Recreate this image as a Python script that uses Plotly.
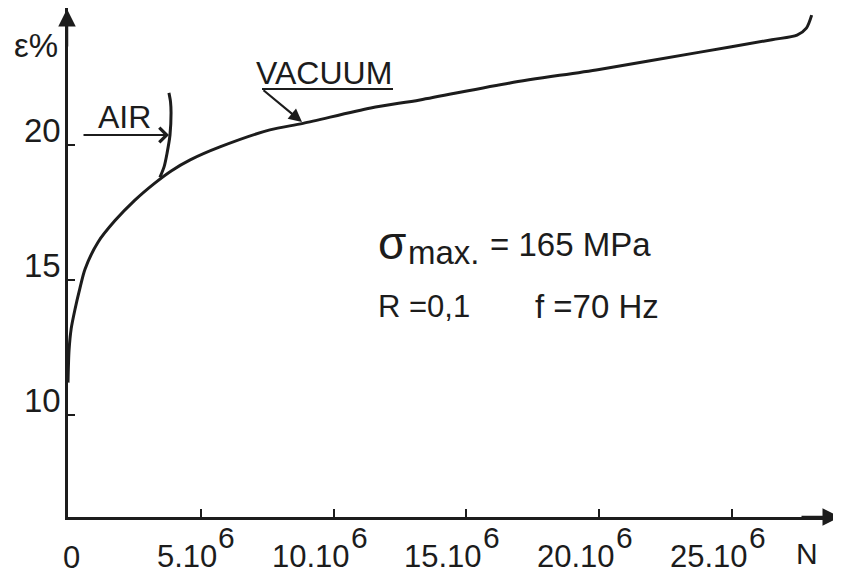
import plotly.graph_objects as go

# ---- data (N in millions of cycles, strain in %) ----
vac_N = [0.0, 0.04, 0.12, 0.26, 0.45, 0.64, 1.13, 1.77, 2.52, 3.28, 3.9, 4.6, 5.72,
         7.6, 8.85, 11.4, 13.25, 16.64, 20.0, 23.8, 26.5, 27.45, 27.8, 28.0]
vac_eps = [11.2, 12.4, 13.2, 13.9, 14.7, 15.4, 16.4, 17.2, 17.96, 18.6, 19.05, 19.45, 19.93,
           20.56, 20.8, 21.37, 21.67, 22.3, 22.8, 23.44, 23.9, 24.07, 24.33, 24.81]
air_N = [3.46, 3.62, 3.73, 3.84, 3.88, 3.86, 3.80]
air_eps = [18.8, 19.2, 19.7, 20.37, 21.19, 21.6, 21.93]

x_ticks = [5, 10, 15, 20, 25]
x_tick_main = ["5.10", "10.10", "15.10", "20.10", "25.10"]
x_tick_exp = "6"
y_ticks = [10, 15, 20]
y_tick_labels = ["10", "15", "20"]

INK = "#1c1c1c"
FONT = "Liberation Sans"

# page body has an 8px margin: figure is drawn 8px in from the window corner
OFF = 8
W, H = 841 - OFF, 578 - OFF
# plot area in window pixels: left 68, right 840, top 8, bottom 517
L = 68 - OFF
T = 8 - OFF
R = W - (840 - OFF)
B = H - (517 - OFF)
PW, PH = W - L - R, H - T - B


def px(x):
    """window x pixel -> paper coordinate"""
    return (x - OFF - L) / PW


def py(y):
    """window y pixel -> paper coordinate"""
    return (H - B - (y - OFF)) / PH


fig = go.Figure()
fig.add_trace(go.Scatter(x=vac_N, y=vac_eps, mode="lines",
                         line=dict(color=INK, width=3, shape="spline", smoothing=0.8),
                         hoverinfo="skip", showlegend=False))
fig.add_trace(go.Scatter(x=air_N, y=air_eps, mode="lines",
                         line=dict(color=INK, width=3, shape="spline", smoothing=0.8),
                         hoverinfo="skip", showlegend=False))

ann = []
# axis arrowheads
ann.append(dict(xref="paper", yref="paper", x=px(67), y=py(8), ax=0, ay=40, text="",
                showarrow=True, arrowhead=2, arrowsize=1.4, arrowwidth=2.5, arrowcolor=INK))
ann.append(dict(xref="paper", yref="paper", x=px(840), y=py(517), ax=-40, ay=0, text="",
                showarrow=True, arrowhead=2, arrowsize=1.4, arrowwidth=2.5, arrowcolor=INK))

# x tick labels
for v, m in zip(x_ticks, x_tick_main):
    ann.append(dict(xref="x", yref="paper", x=v, y=0, xanchor="right", yanchor="middle",
                    xshift=18, yshift=-39, text=m, showarrow=False,
                    font=dict(family=FONT, size=31, color=INK)))
    ann.append(dict(xref="x", yref="paper", x=v, y=0, xanchor="left", yanchor="middle",
                    xshift=15, yshift=-20, text=x_tick_exp, showarrow=False,
                    font=dict(family=FONT, size=30, color=INK)))
ann.append(dict(xref="x", yref="paper", x=0, y=0, xanchor="center", yanchor="middle",
                xshift=3, yshift=-40, text="0", showarrow=False,
                font=dict(family=FONT, size=31, color=INK)))
ann.append(dict(xref="paper", yref="paper", x=px(807), y=py(553), xanchor="center",
                yanchor="middle", text="N", showarrow=False,
                font=dict(family=FONT, size=30, color=INK)))

# y tick labels
for v, t in zip(y_ticks, y_tick_labels):
    ann.append(dict(xref="paper", yref="y", x=0, y=v, xanchor="right", yanchor="middle",
                    xshift=-5, yshift=15, text=t, showarrow=False,
                    font=dict(family=FONT, size=33, color=INK)))
ann.append(dict(xref="paper", yref="paper", x=px(36), y=py(45), xanchor="center",
                yanchor="middle", text="ε%", showarrow=False,
                font=dict(family=FONT, size=33, color=INK)))

# curve labels
ann.append(dict(xref="paper", yref="paper", x=px(124), y=py(117), xanchor="center",
                yanchor="middle", text="AIR", showarrow=False,
                font=dict(family=FONT, size=32, color=INK)))
ann.append(dict(xref="paper", yref="paper", x=px(169), y=py(135), ax=-87, ay=0, text="",
                showarrow=True, arrowhead=4, arrowsize=1.3, arrowwidth=2.2, arrowcolor=INK))
ann.append(dict(xref="paper", yref="paper", x=px(324), y=py(73), xanchor="center",
                yanchor="middle", text="VACUUM", showarrow=False,
                font=dict(family=FONT, size=32, color=INK)))
ann.append(dict(xref="paper", yref="paper", x=px(302), y=py(122), ax=-40, ay=-33, text="",
                showarrow=True, arrowhead=2, arrowsize=1.2, arrowwidth=2.2, arrowcolor=INK))

# test conditions
ann.append(dict(xref="paper", yref="paper", x=px(376), y=py(243), xanchor="left",
                yanchor="middle", text="σ", showarrow=False,
                font=dict(family=FONT, size=46, color=INK)))
ann.append(dict(xref="paper", yref="paper", x=px(406), y=py(252), xanchor="left",
                yanchor="middle", text="max.", showarrow=False,
                font=dict(family=FONT, size=33, color=INK)))
ann.append(dict(xref="paper", yref="paper", x=px(488), y=py(244), xanchor="left",
                yanchor="middle", text="= 165 MPa", showarrow=False,
                font=dict(family=FONT, size=33, color=INK)))
ann.append(dict(xref="paper", yref="paper", x=px(376), y=py(307), xanchor="left",
                yanchor="middle", text="R =0,1", showarrow=False,
                font=dict(family=FONT, size=31, color=INK)))
ann.append(dict(xref="paper", yref="paper", x=px(533), y=py(307), xanchor="left",
                yanchor="middle", text="f =70 Hz", showarrow=False,
                font=dict(family=FONT, size=33, color=INK)))

shapes = [dict(type="line", xref="paper", yref="paper", x0=px(262), x1=px(393),
               y0=py(89), y1=py(89), line=dict(color=INK, width=2.2))]

y_bottom = 10 - (517 - 415) / 27
fig.update_layout(
    width=W, height=H,
    margin=dict(l=L, r=R, t=T, b=B, pad=0),
    paper_bgcolor="white", plot_bgcolor="white",
    xaxis=dict(range=[0, PW / 26.56], showgrid=False, zeroline=False,
               showline=True, linecolor=INK, linewidth=2.5,
               ticks="inside", ticklen=8, tickwidth=2, tickcolor=INK,
               tickvals=x_ticks, showticklabels=False, fixedrange=True),
    yaxis=dict(range=[y_bottom, y_bottom + PH / 27],
               showgrid=False, zeroline=False,
               showline=True, linecolor=INK, linewidth=2.5,
               ticks="inside", ticklen=7, tickwidth=2, tickcolor=INK,
               tickvals=y_ticks, showticklabels=False, fixedrange=True),
    annotations=ann, shapes=shapes, showlegend=False,
)

fig.write_html("out.html")
